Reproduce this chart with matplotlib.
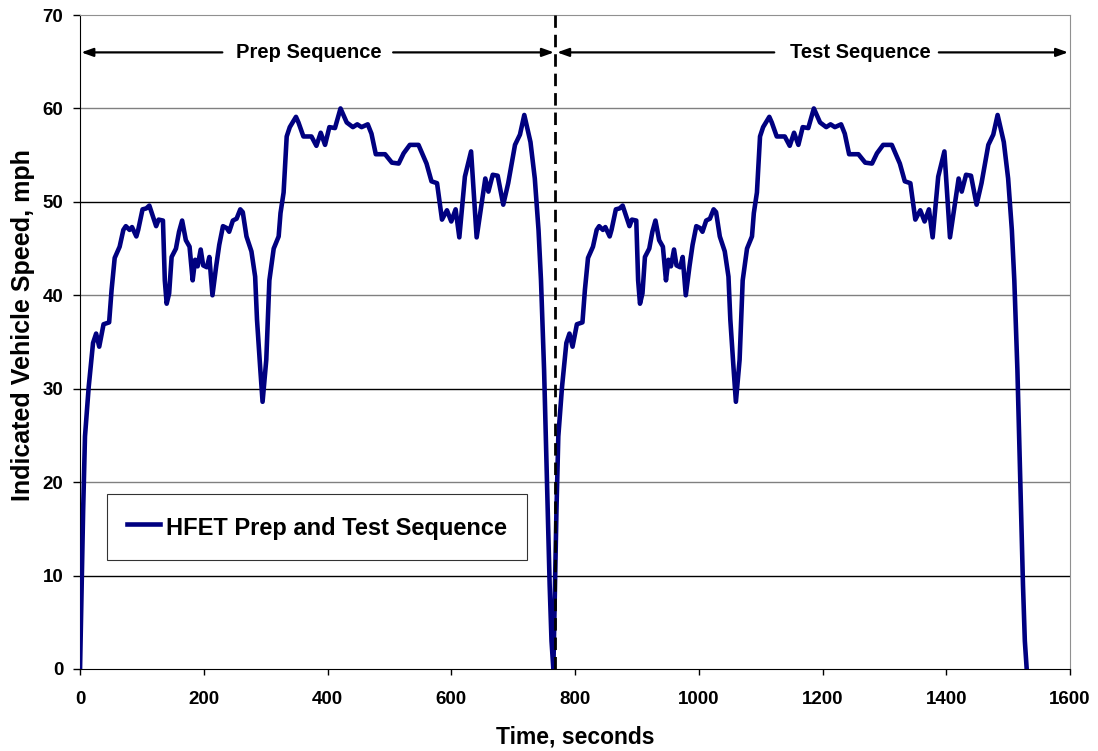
import matplotlib
matplotlib.use("Agg")
import matplotlib.pyplot as plt
import numpy as np

plt.rcParams['font.family'] = ['Liberation Sans', 'DejaVu Sans']
plt.rcParams['font.weight'] = 'bold'

# one HFET cycle (seconds, mph); the chart runs it twice
cycle_t = [0, 3, 5, 8, 14, 21, 26, 31, 38, 47, 51, 56, 64, 70, 74, 80, 84, 91, 94,
           101, 107, 112, 118, 123, 127, 134, 137, 140, 144, 148, 155, 160, 165, 171,
           177, 182, 186, 190, 195, 199, 205, 209, 214, 220, 225, 231, 237, 241, 247,
           253, 259, 263, 269, 277, 283, 286, 291, 295, 301, 306, 313, 321, 324, 329,
           334, 339, 349, 353, 361, 374, 382, 389, 396, 403, 412, 421, 431, 441, 448,
           455, 465, 471, 478, 493, 504, 515, 523, 533, 547, 560, 568, 577, 585, 593,
           600, 607, 613, 622, 632, 641, 655, 660, 667, 675, 684, 692, 703, 711, 718,
           728, 735, 741, 745, 750, 755, 759, 762, 765]
cycle_v = [0, 10, 17, 24.9, 30.2, 34.9, 35.9, 34.5, 36.9, 37.1, 40.6, 44.0, 45.2, 47.0,
           47.4, 47.0, 47.3, 46.3, 47.0, 49.2, 49.3, 49.6, 48.4, 47.4, 48.1, 48.0, 41.6,
           39.1, 40.2, 44.1, 45.0, 46.8, 48.0, 45.9, 45.2, 41.6, 43.8, 43.1, 44.9, 43.2,
           43.0, 44.1, 40.0, 43.1, 45.4, 47.4, 47.2, 46.8, 48.0, 48.2, 49.2, 48.9, 46.3,
           44.7, 42.0, 37.4, 32.4, 28.6, 33.1, 41.6, 45.0, 46.3, 48.8, 51.0, 57.0, 58.0,
           59.1, 58.5, 57.0, 57.0, 56.0, 57.4, 56.1, 58.0, 57.9, 60.0, 58.5, 58.0, 58.3,
           58.0, 58.3, 57.3, 55.1, 55.1, 54.2, 54.1, 55.2, 56.1, 56.1, 54.1, 52.2, 52.0,
           48.1, 49.1, 47.9, 49.2, 46.2, 52.7, 55.4, 46.2, 52.5, 51.1, 52.9, 52.8, 49.7,
           52.0, 56.1, 57.2, 59.3, 56.4, 52.5, 47.0, 41.6, 32.0, 19.0, 9.0, 3.0, 0]
cycle_len = 765
split_t = 768

time = np.concatenate([cycle_t, np.array(cycle_t[1:]) + cycle_len])
speed = np.concatenate([cycle_v, cycle_v[1:]])

fig = plt.figure(figsize=(10.98, 7.51), dpi=100)
ax = fig.add_axes([0.0729, 0.1092, 0.9016, 0.8708])

ax.set_xlim(0, 1600)
ax.set_ylim(0, 70)
ax.set_xticks(np.arange(0, 1601, 200))
ax.set_yticks(np.arange(0, 71, 10))

# horizontal grid, alternating dark / grey like the original
for i, yv in enumerate(range(10, 70, 10)):
    ax.axhline(yv, color='black' if i % 2 == 0 else '#808080', lw=1.0, zorder=1)

ax.plot(time, speed, color='#000080', lw=3.3, solid_joinstyle='round',
        label='HFET Prep and Test Sequence', zorder=3)

ax.axvline(split_t, color='black', lw=2, dashes=(4.5, 2.5), zorder=4)

arrow_y = 66
aprops = dict(arrowstyle='-|>,head_length=0.7,head_width=0.25', color='black', lw=1.6,
              shrinkA=0, shrinkB=0)
ax.annotate('', xy=(2, arrow_y), xytext=(230, arrow_y), arrowprops=aprops)
ax.annotate('', xy=(766, arrow_y), xytext=(506, arrow_y), arrowprops=aprops)
ax.annotate('', xy=(771, arrow_y), xytext=(1122, arrow_y), arrowprops=aprops)
ax.annotate('', xy=(1597, arrow_y), xytext=(1388, arrow_y), arrowprops=aprops)
ax.text(369, arrow_y, 'Prep Sequence', ha='center', va='center', fontsize=14.5,
        fontweight='bold')
ax.text(1261, arrow_y, 'Test Sequence', ha='center', va='center', fontsize=14.5,
        fontweight='bold')

for side in ['top', 'right']:
    ax.spines[side].set_color('#909090')
for side in ['left', 'bottom']:
    ax.spines[side].set_color('black')

ax.tick_params(axis='both', direction='out', width=1, labelsize=13.5)
ax.tick_params(axis='x', length=4, pad=12)
ax.tick_params(axis='y', length=5, pad=7)
for lab in ax.get_xticklabels() + ax.get_yticklabels():
    lab.set_fontweight('bold')

ax.set_xlabel('Time, seconds', fontsize=16.5, fontweight='bold')
ax.set_ylabel('Indicated Vehicle Speed, mph', fontsize=18, fontweight='bold')
ax.xaxis.set_label_coords(0.5, -0.087)
ax.yaxis.set_label_coords(-0.045, 0.526)

leg = ax.legend(loc='lower left', bbox_to_anchor=(0.027, 0.167), fontsize=17,
                frameon=True, fancybox=False, borderpad=0.85, handlelength=1.4,
                handleheight=1.3, handletextpad=0.25, borderaxespad=0)
leg.get_frame().set_edgecolor('black')
leg.get_frame().set_linewidth(0.8)
for t in leg.get_texts():
    t.set_fontweight('bold')

fig.savefig('out.png', dpi=100)
